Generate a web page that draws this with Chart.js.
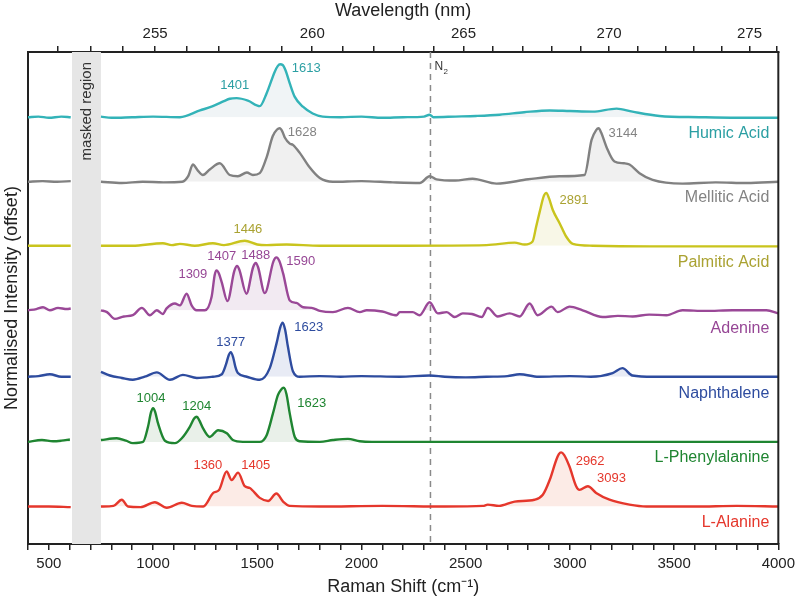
<!DOCTYPE html>
<html>
<head>
<meta charset="utf-8">
<script src="https://cdn.jsdelivr.net/npm/chart.js@4.4.1/dist/chart.umd.min.js"></script>
<style>
  html, body { margin: 0; padding: 0; background: #fff; }
  #wrap { width: 800px; height: 601px; }
</style>
</head>
<body>
<div id="wrap"><canvas id="chart"></canvas></div>
<script>
  // Raman spectra, [shift cm-1, normalised intensity]; null = masked region
  const humic = [[400,0],[450,0.01],[500,-0.01],[560,0.01],[605,0],[680,null],[750,0.01],[800,-0.01],[900,0],[1000,0.01],[1129,0],[1225,0.11],[1287,0.18],[1340,0.26],[1368,0.30],[1401,0.31],[1455,0.27],[1512,0.18],[1545,0.39],[1584,0.74],[1598,0.83],[1610,0.86],[1622,0.85],[1636,0.76],[1656,0.55],[1680,0.33],[1719,0.17],[1766,0.06],[1814,0.01],[1900,0],[2000,0.01],[2100,-0.01],[2200,0],[2300,0.01],[2327,0.04],[2345,0],[2450,0.01],[2550,0.02],[2663,0.04],[2780,0.08],[2903,0.11],[3000,0.10],[3109,0.09],[3224,0.14],[3300,0.09],[3430,0.02],[3622,0],[3800,-0.01],[4000,-0.01]];
  const mellitic = [[400,0],[470,0.01],[540,0],[605,0.01],[680,null],[750,0],[850,-0.02],[950,0],[1050,-0.01],[1140,0],[1170,0.1],[1191,0.28],[1215,0.18],[1239,0.11],[1272,0.20],[1320,0.30],[1368,0.11],[1407,0.09],[1450,0.15],[1479,0.11],[1512,0.14],[1546,0.41],[1574,0.74],[1595,0.85],[1608,0.87],[1620,0.82],[1632,0.72],[1656,0.62],[1671,0.60],[1704,0.47],[1752,0.23],[1800,0.06],[1863,0],[2000,0.01],[2150,-0.01],[2280,-0.02],[2327,0.09],[2360,0.04],[2450,0.02],[2533,0.05],[2648,-0.03],[2800,0.04],[2950,0.09],[3070,0.11],[3104,0.68],[3126,0.84],[3138,0.87],[3150,0.80],[3175,0.57],[3214,0.33],[3260,0.30],[3286,0.28],[3334,0.14],[3397,0.03],[3540,-0.03],[3700,-0.01],[3850,-0.02],[4000,0]];
  const palmitic = [[400,0],[605,0],[680,null],[750,0],[900,0],[1047,0.04],[1090,0.01],[1129,0.03],[1200,0],[1287,0.04],[1340,0.01],[1440,0.08],[1500,0.02],[1546,0.01],[1641,0.02],[1800,0],[2200,0],[2600,0.01],[2735,0.05],[2783,0.02],[2821,0.07],[2838,0.31],[2855,0.55],[2875,0.81],[2887,0.86],[2900,0.77],[2918,0.58],[2950,0.37],[2982,0.15],[3014,0.03],[3109,0],[3382,-0.01],[4000,-0.01]];
  const adenine = [[400,0],[440,0.02],[472,0.05],[505,0],[544,0.04],[587,0.02],[605,0.03],[680,null],[750,0],[779,-0.03],[817,-0.14],[860,-0.1],[903,-0.08],[946,0.04],[985,-0.08],[1018,0],[1047,-0.06],[1065,0.03],[1105,0.11],[1129,0.08],[1161,0.27],[1185,0.08],[1209,0],[1249,0],[1281,0.22],[1296,0.58],[1305,0.65],[1316,0.60],[1330,0.45],[1357,0.15],[1390,0.64],[1403,0.72],[1414,0.66],[1448,0.27],[1480,0.70],[1493,0.77],[1504,0.70],[1536,0.28],[1578,0.80],[1592,0.86],[1606,0.80],[1624,0.60],[1656,0.16],[1688,0.12],[1720,0.05],[1761,0.04],[1800,-0.01],[1863,-0.03],[1935,0.04],[1992,-0.03],[2025,0],[2100,-0.02],[2169,-0.08],[2183,-0.03],[2246,-0.03],[2279,-0.08],[2327,0.13],[2366,-0.05],[2409,-0.03],[2447,-0.11],[2486,-0.05],[2530,-0.06],[2577,-0.11],[2606,0.04],[2654,-0.10],[2711,-0.05],[2759,-0.10],[2807,0.11],[2845,-0.08],[2912,0.06],[2941,-0.03],[2999,0.06],[3061,0],[3157,-0.11],[3230,-0.09],[3301,-0.10],[3380,-0.07],[3463,-0.08],[3540,0],[3650,-0.01],[3780,0],[3943,0],[4000,-0.05]];
  const naphthalene = [[400,0],[450,0.01],[505,0.04],[560,0],[605,0],[680,null],[750,0.08],[793,0.02],[850,-0.02],[903,-0.05],[960,0],[1018,0.07],[1081,-0.05],[1143,0.03],[1210,-0.02],[1287,0],[1330,0.04],[1350,0.2],[1363,0.35],[1373,0.40],[1384,0.32],[1395,0.16],[1407,0.06],[1450,0],[1512,-0.05],[1560,0.14],[1593,0.55],[1610,0.80],[1622,0.88],[1634,0.76],[1647,0.49],[1671,0.09],[1704,0],[1800,0.01],[1900,0],[2000,0.01],[2183,0],[2327,0.02],[2400,0],[2500,-0.01],[2600,0],[2700,0.01],[2759,0.04],[2850,0],[3000,0.01],[3100,0],[3205,0.06],[3252,0.14],[3300,0.02],[3400,0],[3600,0],[4000,0]];
  const phenylalanine = [[400,0],[467,0.03],[520,0.01],[560,0.02],[601,0.04],[680,null],[750,0.03],[826,0.06],[870,0.02],[903,-0.02],[952,0],[976,0.25],[990,0.48],[1000,0.55],[1010,0.49],[1024,0.30],[1057,0.02],[1105,-0.02],[1138,0.06],[1177,0.25],[1197,0.38],[1210,0.41],[1222,0.35],[1240,0.22],[1272,0.08],[1312,0.19],[1354,0.14],[1383,0.03],[1431,0],[1512,0],[1545,0.11],[1575,0.46],[1599,0.76],[1614,0.85],[1627,0.88],[1640,0.78],[1656,0.46],[1680,0.08],[1704,0.01],[1800,0],[1863,0.03],[1935,0.05],[1992,0.01],[2050,0],[4000,0]];
  const alanine = [[400,0],[500,0],[605,-0.01],[680,null],[750,0],[810,0.01],[850,0.11],[880,0],[940,-0.01],[1009,0.07],[1066,-0.02],[1138,0.06],[1186,0.01],[1241,0],[1289,0.22],[1317,0.27],[1353,0.57],[1377,0.43],[1408,0.55],[1440,0.33],[1464,0.30],[1512,0.14],[1552,0.09],[1592,0.21],[1624,0.08],[1656,0.01],[1800,0],[2100,0.01],[2400,0],[2583,0.01],[2606,0.03],[2660,0.01],[2735,0.08],[2830,0.11],[2870,0.19],[2903,0.43],[2935,0.76],[2947,0.85],[2958,0.88],[2972,0.84],[2998,0.65],[3030,0.33],[3046,0.27],[3086,0.33],[3126,0.22],[3190,0.11],[3286,0.03],[3367,0],[3600,0],[3800,0.01],[4000,0]];

  const names   = ["Humic Acid", "Mellitic Acid", "Palmitic Acid", "Adenine", "Naphthalene", "L-Phenylalanine", "L-Alanine"];
  const spectra = [humic, mellitic, palmitic, adenine, naphthalene, phenylalanine, alanine];
  const offsets = [6.94, 5.89, 4.85, 3.80, 2.72, 1.66, 0.61];

  // peak labels: [text, shift, y, align]
  const peaks = [
    [["1401", 1392, 7.45, "center"], ["1613", 1666, 7.74, "left"]],
    [["1628", 1646, 6.70, "left"], ["3144", 3185, 6.68, "left"]],
    [["1446", 1455, 5.12, "center"], ["2891", 2950, 5.58, "left"]],
    [["1309", 1191, 4.39, "center"], ["1407", 1330, 4.67, "center"], ["1488", 1493, 4.69, "center"], ["1590", 1709, 4.59, "center"]],
    [["1377", 1373, 3.27, "center"], ["1623", 1747, 3.52, "center"]],
    [["1004", 990, 2.37, "center"], ["1204", 1210, 2.23, "center"], ["1623", 1761, 2.28, "center"]],
    [["1360", 1263, 1.27, "center"], ["1405", 1493, 1.27, "center"], ["2962", 3097, 1.34, "center"], ["3093", 3200, 1.07, "center"]],
  ];
  const nameY = [6.67, 5.63, 4.57, 3.51, 2.44, 1.40, 0.34];

  const wavelengthTicks = [252, 253, 254, 255, 256, 257, 258, 259, 260, 261, 262, 263, 264, 265, 266, 267, 268, 269, 270, 271, 272, 273, 274, 275, 276];
  const laserNm = 248.6;
  const maskedRegion = [611, 750];
  const n2Shift = 2331;

  const lineColors = ["#33b3b8", "#818181", "#c9c41d", "#9a4897", "#2e4c9f", "#1f8531", "#e5372c"];
  const textColors = ["#2b9fa3", "#838383", "#aaa232", "#964695", "#2e4c9f", "#1f8531", "#e5372c"];
  const fillColors = ["rgba(60,110,140,0.08)", "rgba(128,128,128,0.12)", "rgba(200,190,60,0.12)", "rgba(150,80,150,0.12)", "rgba(50,70,160,0.11)", "rgba(40,110,40,0.10)", "rgba(230,90,50,0.12)"];

  const FONT = "'Liberation Sans', Arial, sans-serif";
  const toShift = nm => 1e7 / laserNm - 1e7 / nm;
  const toNm = s => 1e7 / (1e7 / laserNm - s);

  const datasets = spectra.map((sp, i) => ({
    label: names[i],
    data: sp.map(([x, y]) => ({ x, y: y === null ? null : y + offsets[i] })),
    borderColor: lineColors[i],
    borderWidth: 2.4,
    pointRadius: 0,
    cubicInterpolationMode: "monotone",
    spanGaps: false,
    fill: { target: { value: offsets[i] }, above: fillColors[i], below: "rgba(0,0,0,0)" },
  }));

  const decorations = {
    id: "decorations",
    beforeDatasetsDraw(chart) {
      const { ctx, chartArea: a, scales: { x } } = chart;
      ctx.save();
      const x0 = x.getPixelForValue(maskedRegion[0]);
      const x1 = x.getPixelForValue(maskedRegion[1]);
      ctx.fillStyle = "#e6e6e6";
      ctx.fillRect(x0, a.top, x1 - x0, a.bottom - a.top);
      ctx.translate((x0 + x1) / 2, a.top + 10);
      ctx.rotate(-Math.PI / 2);
      ctx.fillStyle = "#333";
      ctx.font = "15px " + FONT;
      ctx.textAlign = "right";
      ctx.textBaseline = "middle";
      ctx.fillText("masked region", 0, 0);
      ctx.restore();

      ctx.save();
      const xn = x.getPixelForValue(n2Shift);
      ctx.strokeStyle = "#8a8a8a";
      ctx.lineWidth = 1.5;
      ctx.setLineDash([6, 5]);
      ctx.beginPath();
      ctx.moveTo(xn, a.top);
      ctx.lineTo(xn, a.bottom);
      ctx.stroke();
      ctx.fillStyle = "#333";
      ctx.font = "12px " + FONT;
      ctx.textAlign = "left";
      ctx.textBaseline = "middle";
      ctx.fillText("N", xn + 4, a.top + 15);
      ctx.font = "8px " + FONT;
      ctx.fillText("2", xn + 13, a.top + 20);
      ctx.restore();
    },
    afterDatasetsDraw(chart) {
      const { ctx, chartArea: a, scales: { x, y } } = chart;
      ctx.save();
      ctx.textBaseline = "middle";
      peaks.forEach((list, i) => {
        ctx.fillStyle = textColors[i];
        ctx.font = "13px " + FONT;
        list.forEach(([t, sx, sy, align]) => {
          ctx.textAlign = align;
          ctx.fillText(t, x.getPixelForValue(sx), y.getPixelForValue(sy));
        });
        ctx.font = "16px " + FONT;
        ctx.textAlign = "right";
        ctx.fillText(names[i], a.right - 9, y.getPixelForValue(nameY[i]));
      });
      ctx.restore();
    },
    afterDraw(chart) {
      const { ctx, chartArea: a } = chart;
      ctx.save();
      ctx.strokeStyle = "#222";
      ctx.lineWidth = 2;
      ctx.beginPath();
      ctx.moveTo(a.right, a.top);
      ctx.lineTo(a.right, a.bottom);
      ctx.stroke();
      ctx.restore();
    },
  };

  const axisGrid = { drawOnChartArea: false, drawTicks: true, tickLength: 6, color: "#222", lineWidth: 1.5 };
  const axisBorder = { display: true, color: "#222", width: 2 };

  new Chart(document.getElementById("chart"), {
    type: "line",
    data: { datasets },
    options: {
      responsive: true,
      maintainAspectRatio: false,
      animation: false,
      layout: { padding: { left: 0, right: 21, top: 0, bottom: 0 } },
      plugins: { legend: { display: false }, tooltip: { enabled: false } },
      scales: {
        x: {
          type: "linear", position: "bottom", min: 400, max: 4000,
          grid: axisGrid, border: axisBorder,
          ticks: {
            stepSize: 100, autoSkip: false, maxRotation: 0, padding: 5,
            color: "#222", font: { family: FONT, size: 15 },
            callback: v => (v % 500 === 0 ? v : ""),
          },
          title: { display: true, text: "Raman Shift (cm\u207B\u00B9)", color: "#222", font: { family: FONT, size: 18 }, padding: { top: 0, bottom: 3 } },
          afterFit: s => { s.height = 57; },
        },
        x2: {
          type: "linear", position: "top", min: 400, max: 4000,
          grid: axisGrid, border: axisBorder,
          afterBuildTicks: s => { s.ticks = wavelengthTicks.map(nm => ({ value: toShift(nm) })); },
          ticks: {
            autoSkip: false, maxRotation: 0, padding: 3,
            color: "#222", font: { family: FONT, size: 15 },
            callback: v => { const nm = Math.round(toNm(v)); return nm % 5 === 0 ? nm : ""; },
          },
          title: { display: true, text: "Wavelength (nm)", color: "#222", font: { family: FONT, size: 18 }, padding: { top: 0, bottom: 2 } },
          afterFit: s => { s.height = 52; },
        },
        y: {
          min: 0, max: 8,
          grid: { display: false }, border: axisBorder,
          ticks: { display: false },
          title: { display: true, text: "Normalised Intensity (offset)", color: "#222", font: { family: FONT, size: 18 }, padding: 1 },
          afterFit: s => { s.width = 28; },
        },
      },
    },
    plugins: [decorations],
  });
</script>
</body>
</html>
